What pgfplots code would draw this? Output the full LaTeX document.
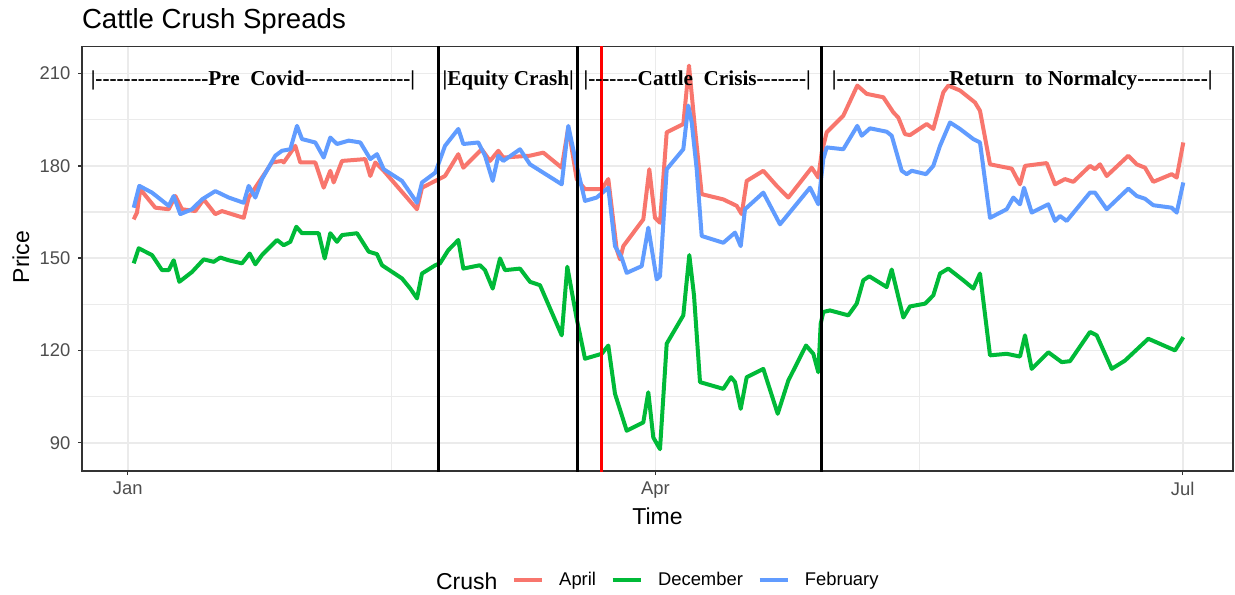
\documentclass[border=0pt]{standalone}
\usepackage{pgfplots}
\pgfplotsset{compat=1.18}
\usepackage{pgfplotstable}
\usepackage{fontspec}
\setmainfont{Liberation Sans}
\newfontfamily\timesb{Liberation Serif}[Ligatures=TeXOff]
\definecolor{gAp}{HTML}{F8766D}
\definecolor{gDe}{HTML}{00BA38}
\definecolor{gFe}{HTML}{619CFF}
\definecolor{grey20}{HTML}{333333}
\definecolor{grey30}{HTML}{4D4D4D}
\definecolor{grey92}{HTML}{EBEBEB}

% x is the horizontal position on the time axis (Jan = 127.7, Apr = 655.5, Jul = 1182.7)
\pgfplotstableread{
px price
133.7 162.6
137 164.8
140.3 172.4
155.3 166.4
168.7 165.9
175.3 170.2
182 165.9
195.3 165.3
203.7 169.1
215.3 164.3
222 165.3
243.7 163.1
248.7 169.7
262 176.2
272 181.1
282 181.6
283.7 181.1
295.3 186.5
300.3 181.1
315.3 181.1
323.7 172.9
330.3 178.4
333.7 174.6
342 181.6
365.3 182.2
370.3 176.7
375.3 181.1
383.7 178.4
417 165.9
422 172.9
435.3 175.1
445 176.7
458.3 183.8
463.3 179.4
481.7 185.4
490 181.6
498.3 184.9
503.3 182.7
530 183.3
543.3 184.3
561.7 179.4
568.3 192.5
576.7 175.7
585 172.4
601.7 172.4
608.3 175.7
616.7 152.8
620 149.6
623.3 153.9
643.3 162.6
649.3 178.9
655 163.1
660 161.5
666.7 190.9
683.3 193.6
689 212.6
695 192.0
701.7 170.8
723.3 169.1
736.7 167.0
741.7 164.3
746.7 175.1
763.3 178.4
776.7 173.5
788.3 169.7
811.7 179.4
818.3 176.2
821.7 184.3
826.7 190.9
843.3 196.3
857.3 206.1
866.7 203.4
883.3 202.3
893.3 197.4
898.3 195.7
905 190.3
910 190.0
926.7 193.6
933.3 192.0
943.3 203.9
948.3 206.1
960 204.5
975 200.6
980 197.9
990 180.5
1011.7 179.1
1020 174.0
1025 180.0
1046.7 180.9
1055 174.0
1065 175.7
1073.3 174.8
1090 180.0
1095 178.9
1100 180.5
1106.7 176.7
1128.3 183.3
1136.7 180.5
1145 179.4
1153.3 174.8
1171.7 177.3
1176.7 176.2
1183.3 187.6
}\april

\pgfplotstableread{
px price
133.7 148.3
138.7 153.2
152 151
162 146.1
168.7 146.1
173.7 149.3
179.3 142.3
192 145.5
203.7 149.6
213.7 148.8
220.3 150.2
228.7 149.3
242 148.3
249.7 151.5
255.3 148.0
262 151
277 155.9
283.7 154.2
290.3 155.3
296.3 160.2
302 158.1
318.7 158.1
324.7 149.9
330.3 158.1
337 155.3
342 157.5
357 158.1
368.7 152.1
377 151.3
382 147.7
402 143.4
410.3 140.1
417 136.9
422 145.0
435.3 147.7
440 148.3
448.3 152.6
458.3 155.9
463.3 146.6
480 147.7
485 146.1
492.7 140.1
500 149.9
505 146.1
520 146.6
530 142.3
540 141.2
561.7 124.9
567.3 147.2
576.7 130.3
585 117.3
601.7 118.9
608.3 121.6
615 105.9
626.7 93.9
643.3 96.6
648.3 106.4
653.3 91.7
660 87.9
666.7 122.2
683.3 131.4
689.3 151
694 137.9
700 109.7
723.3 107.5
731 111.3
735 109.7
740.7 101.0
746.7 111.3
763.3 114.0
777.7 99.4
788.3 110.2
806 121.6
813.3 118.9
818.3 112.9
820.7 128.7
823.3 132.5
830 133.0
848.3 131.4
856.7 135.2
863.3 142.8
869.3 144.1
886.7 140.6
891.7 146.3
903.3 130.7
910 134.3
925 135.2
933.3 137.9
940 145.0
948.3 146.6
963.3 142.8
973.3 140.1
980 145.0
990 118.4
1006.7 118.9
1020 118.0
1025 124.9
1031.7 114.0
1048.3 119.4
1061.7 116.2
1070 116.5
1090 126.0
1096.7 124.9
1111.7 114.0
1125 116.7
1148.3 123.8
1175 120.0
1183.3 124.3
}\december

\pgfplotstableread{
px price
133.7 166.4
139.3 173.5
152 171.3
168.7 167
173.7 170.2
180.3 164.3
192 165.9
202 169.1
215.3 171.8
228.7 169.7
243.7 168
248.7 173.5
255.3 169.7
262 175.7
275.3 183.3
282 184.9
290.3 185.4
297 193.0
302 188.7
315.3 187.6
323.7 182.7
330.3 189.2
337 187.1
348.7 188.2
360.3 187.6
370.3 182.2
377 183.8
383.7 178.9
402 175.1
417 168
422 174.6
435.3 177.8
445 186.5
458.3 192.0
463.3 187.1
478.3 187.6
485 183.3
492.7 175.1
498.3 183.3
503.3 181.6
520 185.4
530 180.5
561.7 174.0
568.3 193.0
576.7 180.0
585 168.6
596.7 169.7
608.3 172.9
615 153.9
621.7 150.1
626.7 145.2
641.7 147.4
648.3 159.9
656.7 143.1
660 144.1
666.7 178.9
683.3 185.4
688.3 199.6
691.7 194.1
696.7 178.9
701.7 157.2
723.3 155.0
735 158.3
740.7 153.9
745 165.9
763.3 171.3
780 161.0
810 172.9
818.3 167.5
823.3 182.2
826.7 186.0
843.3 185.4
857.3 193.0
861.7 189.8
870 192.2
886.7 191.1
891.7 189.8
901.7 178.4
906.7 177.3
911.7 178.4
926 177.3
933.3 180.0
940 186.5
950 194.1
960 192.0
973.3 188.7
980 187.6
990 163.1
1006.7 165.9
1013.3 169.7
1020 167.5
1024 172.9
1031.7 164.8
1048.3 167.5
1055 162.1
1060 163.7
1066.7 162.1
1090 171.3
1095 171.3
1106.7 165.9
1128.3 172.6
1136.7 170.2
1145 169.3
1153.3 167.2
1171.7 166.4
1176.7 164.8
1183.3 174.6
}\february

\begin{document}
\begin{tikzpicture}
\path[use as bounding box] (0,0) rectangle (926.25pt,445.5pt);
\begin{axis}[
  at={(61.5pt,92.25pt)}, anchor=south west,
  scale only axis, width=863.25pt, height=318.375pt,
  xmin=82, xmax=1233, ymin=80.8, ymax=218.8,
  xtick={127.7,655.5,1182.7}, xticklabels={Jan,Apr,Jul},
  minor xtick={391.6,919.1},
  ytick={90,120,150,180,210},
  minor ytick={105,135,165,195},
  grid=both,
  major grid style={color=grey92, line width=1.3pt},
  minor grid style={color=grey92, line width=0.8pt},
  axis line style={color=grey20, line width=1.1pt},
  tick pos=left, tick align=outside,
  major tick length=3pt, minor tick length=0pt,
  tick style={color=grey20, line width=1.1pt},
  /pgf/number format/assume math mode=true,
  ticklabel style={font=\fontsize{13.8}{16}\selectfont, text=grey30},
  yticklabel style={xshift=-2.2pt},
  xticklabel style={yshift=-1.5pt},
  legend style={at={(0.3735,-0.2568)}, anchor=west, draw=none, fill=none,
    inner sep=0pt, outer sep=0pt, font=\fontsize{13.8}{16}\selectfont,
    nodes={inner sep=0pt},
    /tikz/every odd column/.append style={column sep=11.5pt},
    /tikz/every even column/.append style={column sep=11pt}},
  legend columns=-1,
  legend image code/.code={\draw[#1, line width=3pt] (0pt,0pt) -- (21pt,0pt);},
]
\addplot[gAp, line width=3pt, line join=round] table[x=px, y=price] {\april};
\addlegendentry{April}
\addplot[gDe, line width=3pt, line join=round] table[x=px, y=price] {\december};
\addlegendentry{December}
\addplot[gFe, line width=3pt, line join=round] table[x=px, y=price] {\february};
\addlegendentry{February}
\addplot[black, line width=2pt, forget plot] coordinates {(438.5,70) (438.5,230)};
\addplot[black, line width=2pt, forget plot] coordinates {(577.8,70) (577.8,230)};
\addplot[red, line width=2pt, forget plot] coordinates {(601.7,70) (601.7,230)};
\addplot[black, line width=2pt, forget plot] coordinates {(821.7,70) (821.7,230)};
\begin{scope}[every node/.style={font=\timesb\bfseries\fontsize{15.9}{18}\selectfont, anchor=base, inner sep=0pt}]
\node at (axis cs:253,206.1) {|----------------Pre\ \ Covid---------------|};
\node at (axis cs:508.3,206.1) {|Equity Crash|};
\node at (axis cs:697.2,206.1) {|-------Cattle\ \ Crisis-------|};
\node at (axis cs:1022.2,206.1) {|----------------Return\ \ to Normalcy----------|};
\end{scope}
\end{axis}
\node[anchor=base west, inner sep=0pt, font=\fontsize{20.7}{24}\selectfont] at (61.3pt,424.3pt) {Cattle Crush Spreads};
\node[rotate=90, inner sep=0pt, font=\fontsize{17.25}{20}\selectfont] at (15.75pt,252.75pt) {Price};
\node[inner sep=0pt, font=\fontsize{17.25}{20}\selectfont] at (493.1pt,58.5pt) {Time};
\node[anchor=base east, inner sep=0pt, font=\fontsize{17.25}{20}\selectfont] at (373.3pt,3.6pt) {Crush};
\end{tikzpicture}
\end{document}
